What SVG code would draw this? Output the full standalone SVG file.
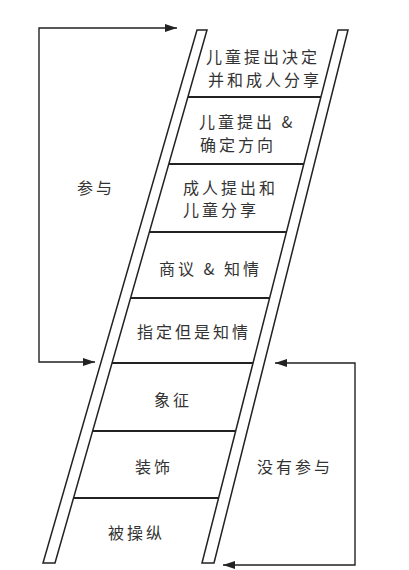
<svg xmlns="http://www.w3.org/2000/svg" width="409" height="570" viewBox="0 0 409 570">
<style>
.rail{fill:#fff;stroke:#222;stroke-width:1.5;stroke-linejoin:miter}
.rung{stroke:#222;stroke-width:1.8;fill:none}
.conn{stroke:#222;stroke-width:1.4;fill:none}
text{font-family:"Noto Sans CJK SC","Noto Sans",sans-serif;font-size:16px;fill:#333;letter-spacing:3px}
</style>
<defs>
<marker id="ah" viewBox="0 0 12 8" refX="12" refY="4" markerWidth="12" markerHeight="8" markerUnits="userSpaceOnUse" orient="auto-start-reverse">
<path d="M0,0 L12,4 L0,8 Z" fill="#222"/>
</marker>
</defs>
<rect width="409" height="570" fill="#fff"/>
<g id="ladder">
<polygon class="rail" points="197,30 207,30 55,563 43,563"/>
<polygon class="rail" points="338,30 348,30 214,563 202,563"/>
<line class="rung" x1="188" y1="97" x2="321" y2="97"/>
<line class="rung" x1="169" y1="164" x2="304" y2="164"/>
<line class="rung" x1="149.5" y1="232" x2="286.5" y2="232"/>
<line class="rung" x1="130.5" y1="298" x2="269.5" y2="298"/>
<line class="rung" x1="112" y1="363" x2="253" y2="363"/>
<line class="rung" x1="92.5" y1="431" x2="235.5" y2="431"/>
<line class="rung" x1="73.5" y1="498" x2="218.5" y2="498"/>
</g>
<g id="rung8"><text x="206" y="63">儿童提出决定</text><text x="208" y="86">并和成人分享</text></g>
<g id="rung7"><text x="199" y="128">儿童提出 &amp;</text><text x="200" y="151">确定方向</text></g>
<g id="rung6"><text x="183" y="194">成人提出和</text><text x="183" y="216">儿童分享</text></g>
<g id="rung5"><text x="159" y="275">商议 &amp; 知情</text></g>
<g id="rung4"><text x="137" y="338">指定但是知情</text></g>
<g id="rung3"><text x="154" y="406">象征</text></g>
<g id="rung2"><text x="135" y="473">装饰</text></g>
<g id="rung1"><text x="108" y="539">被操纵</text></g>
<g id="connectors">
<path class="conn" d="M177,28 H39 V362 H95" marker-start="url(#ah)" marker-end="url(#ah)"/>
<path class="conn" d="M275,363 H355 V565 H223" marker-start="url(#ah)" marker-end="url(#ah)"/>
</g>
<g id="label-participation"><text x="77" y="194">参与</text></g>
<g id="label-nonparticipation"><text x="257" y="473">没有参与</text></g>
</svg>
